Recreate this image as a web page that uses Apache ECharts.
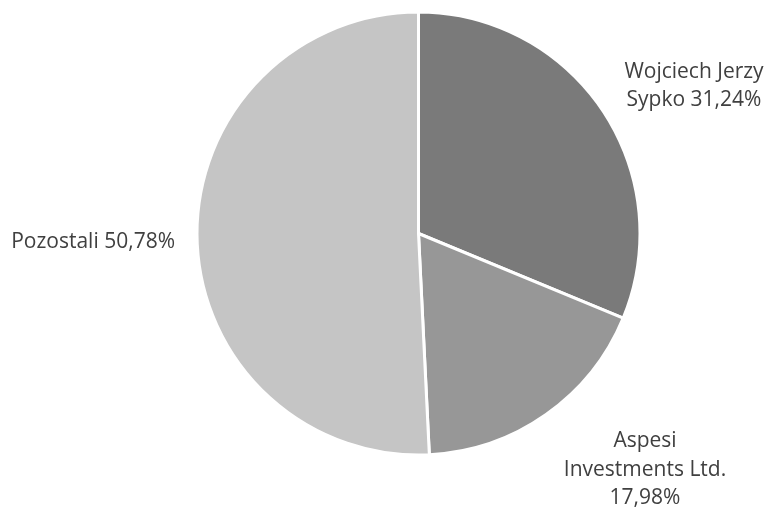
<!DOCTYPE html>
<html><head><meta charset="utf-8">
<script src="https://cdn.jsdelivr.net/npm/echarts@6/dist/echarts.min.js"></script>
<style>html,body{margin:0;padding:0;background:#fff}#c{width:768px;height:509px}</style>
</head><body><div id="c"></div>
<script>
const names = ['Wojciech Jerzy\nSypko', 'Aspesi\nInvestments Ltd.', 'Pozostali'];
const values = [31.24, 17.98, 50.78];
const seps = [' ', '\n', ' '];
const colors = ['#7a7a7a', '#979797', '#c5c5c5'];
const labelPos = [[694, 86, 'center'], [645, 470, 'center'], [175, 242, 'right']];

const chart = echarts.init(document.getElementById('c'), null, {renderer: 'canvas'});
chart.setOption({
  animation: false,
  series: [{
    type: 'pie',
    center: [418.5, 233.5],
    radius: [0, 221.5],
    startAngle: 90,
    clockwise: true,
    data: names.map((n, i) => ({name: n, value: values[i], itemStyle: {color: colors[i]}})),
    itemStyle: {borderColor: '#ffffff', borderWidth: 3},
    label: {
      show: true,
      position: 'outside',
      formatter: p => p.name + seps[p.dataIndex] + p.value.toFixed(2).replace('.', ',') + '%',
      fontFamily: 'Open Sans',
      fontSize: 21,
      lineHeight: 28.5,
      color: '#404040',
      align: 'center',
      overflow: 'none'
    },
    labelLine: {show: false},
    labelLayout: p => ({x: labelPos[p.dataIndex][0], y: labelPos[p.dataIndex][1], align: labelPos[p.dataIndex][2], verticalAlign: 'middle', width: 300})
  }]
});
</script></body></html>
